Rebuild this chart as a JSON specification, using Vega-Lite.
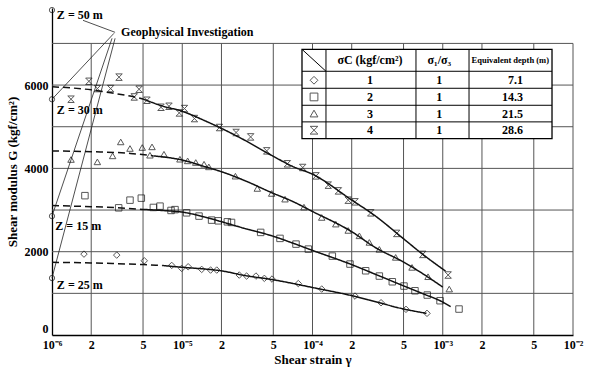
{
  "$schema": "https://vega.github.io/schema/vega-lite/v6.json",
  "width": 521,
  "height": 327,
  "autosize": "none",
  "padding": {"left": 52, "top": 8, "right": 16, "bottom": 32},
  "background": "white",
  "config": {"view": {"stroke": null}, "font": "Liberation Serif"},
  "datasets": {
    "vgrid": [
      {"x": 2e-6, "y": 0, "y2": 7000}, {"x": 5e-6, "y": 0, "y2": 7000},
      {"x": 1e-5, "y": 0, "y2": 7000}, {"x": 2e-5, "y": 0, "y2": 7000},
      {"x": 5e-5, "y": 0, "y2": 7000}, {"x": 1e-4, "y": 0, "y2": 7000},
      {"x": 2e-4, "y": 0, "y2": 7000}, {"x": 5e-4, "y": 0, "y2": 7000},
      {"x": 1e-3, "y": 0, "y2": 7000}, {"x": 2e-3, "y": 0, "y2": 7000},
      {"x": 5e-3, "y": 0, "y2": 7000}, {"x": 1e-2, "y": 0, "y2": 7000}
    ],
    "hgrid": [
      {"y": 1000, "x": 1e-6, "x2": 0.01}, {"y": 2000, "x": 1e-6, "x2": 0.01},
      {"y": 3000, "x": 1e-6, "x2": 0.01}, {"y": 4000, "x": 1e-6, "x2": 0.01},
      {"y": 5000, "x": 1e-6, "x2": 0.01}, {"y": 6000, "x": 1e-6, "x2": 0.01},
      {"y": 7000, "x": 1e-6, "x2": 0.01}
    ],
    "tablebox": [{"x": 8.305e-5, "x2": 0.0069, "y": 4716, "y2": 6858}],
    "tablelines": [
      {"x": 8.305e-5, "x2": 0.0069, "y": 6331, "y2": 6331},
      {"x": 8.305e-5, "x2": 0.0069, "y": 5923, "y2": 5923},
      {"x": 8.305e-5, "x2": 0.0069, "y": 5515, "y2": 5515},
      {"x": 8.305e-5, "x2": 0.0069, "y": 5116, "y2": 5116},
      {"x": 1.269e-4, "x2": 1.269e-4, "y": 4716, "y2": 6858},
      {"x": 6.23e-4, "x2": 6.23e-4, "y": 4716, "y2": 6858},
      {"x": 1.591e-3, "x2": 1.591e-3, "y": 4716, "y2": 6858},
      {"x": 8.305e-5, "x2": 1.269e-4, "y": 6858, "y2": 6331}
    ],
    "geolines": [
      {"x": 1.73e-6, "y": 7554, "x2": 3.05e-6, "y2": 7266},
      {"x": 2.99e-6, "y": 7242, "x2": 1e-6, "y2": 5659},
      {"x": 2.89e-6, "y": 7122, "x2": 1e-6, "y2": 2854},
      {"x": 3.05e-6, "y": 7122, "x2": 1e-6, "y2": 1367}
    ],
    "zpoints": [
      {"x": 1e-6, "y": 7800}, {"x": 1e-6, "y": 5659},
      {"x": 1e-6, "y": 2854}, {"x": 1e-6, "y": 1367}
    ],
    "zlabels": [
      {"x": 1.09e-6, "y": 7674, "label": "Z = 50 m"},
      {"x": 1.09e-6, "y": 5396, "label": "Z = 30 m"},
      {"x": 1.06e-6, "y": 2614, "label": "Z = 15 m"},
      {"x": 1.09e-6, "y": 1199, "label": "Z = 25 m"}
    ],
    "geolabel": [{"x": 3.39e-6, "y": 7266, "label": "Geophysical Investigation"}],
    "tabsym": [
      {"x": 1.027e-4, "y": 6115, "series": "1"},
      {"x": 1.027e-4, "y": 5715, "series": "2"},
      {"x": 1.027e-4, "y": 5316, "series": "3"},
      {"x": 1.027e-4, "y": 4916, "series": "4"}
    ],
    "tabtext": [
      {"x": 2.76e-4, "y": 6595, "label": "σC (kgf/cm²)"},
      {"x": 9.41e-4, "y": 6595, "label": "σ₁/σ₃"},
      {"x": 2.76e-4, "y": 6115, "label": "1"},
      {"x": 2.76e-4, "y": 5715, "label": "2"},
      {"x": 2.76e-4, "y": 5316, "label": "3"},
      {"x": 2.76e-4, "y": 4916, "label": "4"},
      {"x": 9.41e-4, "y": 6115, "label": "1"},
      {"x": 9.41e-4, "y": 5715, "label": "1"},
      {"x": 9.41e-4, "y": 5316, "label": "1"},
      {"x": 9.41e-4, "y": 4916, "label": "1"}
    ],
    "tabhead": [{"x": 3.3e-3, "y": 6595, "label": "Equivalent depth (m)"}],
    "tabdepth": [
      {"x": 4.13e-3, "y": 6115, "label": "7.1"},
      {"x": 4.13e-3, "y": 5715, "label": "14.3"},
      {"x": 4.13e-3, "y": 5316, "label": "21.5"},
      {"x": 4.13e-3, "y": 4916, "label": "28.6"}
    ],
    "fit": [
      {"series": "4", "seg": "dashed", "x": 1e-6, "y": 5960},
      {"series": "4", "seg": "dashed", "x": 2e-6, "y": 5885},
      {"series": "4", "seg": "dashed", "x": 3e-6, "y": 5800},
      {"series": "4", "seg": "dashed", "x": 4.3e-6, "y": 5715},
      {"series": "4", "seg": "dashed", "x": 5e-6, "y": 5665},
      {"series": "4", "seg": "solid", "x": 5e-6, "y": 5665},
      {"series": "4", "seg": "solid", "x": 7e-6, "y": 5500},
      {"series": "4", "seg": "solid", "x": 1e-5, "y": 5370},
      {"series": "4", "seg": "solid", "x": 1.5e-5, "y": 5140},
      {"series": "4", "seg": "solid", "x": 2e-5, "y": 4960},
      {"series": "4", "seg": "solid", "x": 3e-5, "y": 4680},
      {"series": "4", "seg": "solid", "x": 5e-5, "y": 4290},
      {"series": "4", "seg": "solid", "x": 7e-5, "y": 4050},
      {"series": "4", "seg": "solid", "x": 1e-4, "y": 3860},
      {"series": "4", "seg": "solid", "x": 2e-4, "y": 3240},
      {"series": "4", "seg": "solid", "x": 3e-4, "y": 2870},
      {"series": "4", "seg": "solid", "x": 5e-4, "y": 2310},
      {"series": "4", "seg": "solid", "x": 7e-4, "y": 1940},
      {"series": "4", "seg": "solid", "x": 1.05e-3, "y": 1535},
      {"series": "3", "seg": "dashed", "x": 1e-6, "y": 4420},
      {"series": "3", "seg": "dashed", "x": 2e-6, "y": 4400},
      {"series": "3", "seg": "dashed", "x": 4e-6, "y": 4360},
      {"series": "3", "seg": "dashed", "x": 6e-6, "y": 4300},
      {"series": "3", "seg": "solid", "x": 6e-6, "y": 4300},
      {"series": "3", "seg": "solid", "x": 1e-5, "y": 4200},
      {"series": "3", "seg": "solid", "x": 1.5e-5, "y": 4040},
      {"series": "3", "seg": "solid", "x": 2e-5, "y": 3920},
      {"series": "3", "seg": "solid", "x": 3e-5, "y": 3710},
      {"series": "3", "seg": "solid", "x": 5e-5, "y": 3400},
      {"series": "3", "seg": "solid", "x": 7e-5, "y": 3210},
      {"series": "3", "seg": "solid", "x": 1e-4, "y": 2965},
      {"series": "3", "seg": "solid", "x": 2e-4, "y": 2480},
      {"series": "3", "seg": "solid", "x": 3e-4, "y": 2110},
      {"series": "3", "seg": "solid", "x": 5e-4, "y": 1750},
      {"series": "3", "seg": "solid", "x": 7e-4, "y": 1475},
      {"series": "3", "seg": "solid", "x": 1e-3, "y": 1150},
      {"series": "2", "seg": "dashed", "x": 1e-6, "y": 3110},
      {"series": "2", "seg": "dashed", "x": 2e-6, "y": 3080},
      {"series": "2", "seg": "dashed", "x": 3e-6, "y": 3060},
      {"series": "2", "seg": "dashed", "x": 5e-6, "y": 3015},
      {"series": "2", "seg": "solid", "x": 5e-6, "y": 3015},
      {"series": "2", "seg": "solid", "x": 7e-6, "y": 2990},
      {"series": "2", "seg": "solid", "x": 1e-5, "y": 2950},
      {"series": "2", "seg": "solid", "x": 1.5e-5, "y": 2830},
      {"series": "2", "seg": "solid", "x": 2e-5, "y": 2720},
      {"series": "2", "seg": "solid", "x": 3e-5, "y": 2560},
      {"series": "2", "seg": "solid", "x": 5e-5, "y": 2370},
      {"series": "2", "seg": "solid", "x": 7e-5, "y": 2210},
      {"series": "2", "seg": "solid", "x": 1e-4, "y": 2030},
      {"series": "2", "seg": "solid", "x": 2e-4, "y": 1690},
      {"series": "2", "seg": "solid", "x": 3e-4, "y": 1465},
      {"series": "2", "seg": "solid", "x": 5e-4, "y": 1180},
      {"series": "2", "seg": "solid", "x": 7e-4, "y": 995},
      {"series": "2", "seg": "solid", "x": 1e-3, "y": 790},
      {"series": "2", "seg": "solid", "x": 1.15e-3, "y": 680},
      {"series": "1", "seg": "dashed", "x": 1e-6, "y": 1745},
      {"series": "1", "seg": "dashed", "x": 2e-6, "y": 1730},
      {"series": "1", "seg": "dashed", "x": 3e-6, "y": 1715},
      {"series": "1", "seg": "dashed", "x": 5e-6, "y": 1690},
      {"series": "1", "seg": "dashed", "x": 7e-6, "y": 1670},
      {"series": "1", "seg": "solid", "x": 7e-6, "y": 1670},
      {"series": "1", "seg": "solid", "x": 1e-5, "y": 1625},
      {"series": "1", "seg": "solid", "x": 1.5e-5, "y": 1583},
      {"series": "1", "seg": "solid", "x": 2e-5, "y": 1540},
      {"series": "1", "seg": "solid", "x": 3e-5, "y": 1430},
      {"series": "1", "seg": "solid", "x": 5e-5, "y": 1326},
      {"series": "1", "seg": "solid", "x": 7e-5, "y": 1240},
      {"series": "1", "seg": "solid", "x": 1e-4, "y": 1140},
      {"series": "1", "seg": "solid", "x": 2e-4, "y": 945},
      {"series": "1", "seg": "solid", "x": 3e-4, "y": 805},
      {"series": "1", "seg": "solid", "x": 5e-4, "y": 625},
      {"series": "1", "seg": "solid", "x": 7.5e-4, "y": 520}
    ],
    "pts": [
      {"series": "1", "x": 1.76e-6, "y": 1942}, {"series": "1", "x": 3.14e-6, "y": 1918},
      {"series": "1", "x": 5.11e-6, "y": 1782}, {"series": "1", "x": 8.3e-6, "y": 1670},
      {"series": "1", "x": 9.9e-6, "y": 1599}, {"series": "1", "x": 1.11e-5, "y": 1638},
      {"series": "1", "x": 1.41e-5, "y": 1575}, {"series": "1", "x": 1.65e-5, "y": 1559},
      {"series": "1", "x": 1.84e-5, "y": 1559}, {"series": "1", "x": 2.74e-5, "y": 1439},
      {"series": "1", "x": 3.12e-5, "y": 1415}, {"series": "1", "x": 3.68e-5, "y": 1415},
      {"series": "1", "x": 4.27e-5, "y": 1360}, {"series": "1", "x": 4.89e-5, "y": 1343},
      {"series": "1", "x": 7.78e-5, "y": 1235}, {"series": "1", "x": 1.177e-4, "y": 1103},
      {"series": "1", "x": 2.12e-4, "y": 935}, {"series": "1", "x": 3.36e-4, "y": 775},
      {"series": "1", "x": 5.22e-4, "y": 616}, {"series": "1", "x": 7.57e-4, "y": 520},
      {"series": "2", "x": 1.79e-6, "y": 3345}, {"series": "2", "x": 3.25e-6, "y": 3053},
      {"series": "2", "x": 3.97e-6, "y": 3237}, {"series": "2", "x": 4.85e-6, "y": 3285},
      {"series": "2", "x": 6.0e-6, "y": 3062}, {"series": "2", "x": 6.75e-6, "y": 3093},
      {"series": "2", "x": 8.2e-6, "y": 2990}, {"series": "2", "x": 8.8e-6, "y": 3010},
      {"series": "2", "x": 1.08e-5, "y": 2933}, {"series": "2", "x": 1.345e-5, "y": 2854},
      {"series": "2", "x": 1.68e-5, "y": 2758}, {"series": "2", "x": 1.89e-5, "y": 2741},
      {"series": "2", "x": 2.22e-5, "y": 2717}, {"series": "2", "x": 2.39e-5, "y": 2702},
      {"series": "2", "x": 4.0e-5, "y": 2463}, {"series": "2", "x": 5.63e-5, "y": 2319},
      {"series": "2", "x": 7.47e-5, "y": 2182}, {"series": "2", "x": 9.29e-5, "y": 2062},
      {"series": "2", "x": 1.42e-4, "y": 1894}, {"series": "2", "x": 1.94e-4, "y": 1703},
      {"series": "2", "x": 2.56e-4, "y": 1542}, {"series": "2", "x": 3.26e-4, "y": 1415},
      {"series": "2", "x": 4.1e-4, "y": 1278}, {"series": "2", "x": 5.04e-4, "y": 1175},
      {"series": "2", "x": 6.12e-4, "y": 1062}, {"series": "2", "x": 7.6e-4, "y": 959},
      {"series": "2", "x": 9.53e-4, "y": 823}, {"series": "2", "x": 1.333e-3, "y": 623},
      {"series": "3", "x": 1.4e-6, "y": 4213}, {"series": "3", "x": 2.23e-6, "y": 4156},
      {"series": "3", "x": 2.92e-6, "y": 4300}, {"series": "3", "x": 3.37e-6, "y": 4635},
      {"series": "3", "x": 3.97e-6, "y": 4477}, {"series": "3", "x": 4.93e-6, "y": 4501},
      {"series": "3", "x": 5.86e-6, "y": 4516}, {"series": "3", "x": 5.65e-6, "y": 4316},
      {"series": "3", "x": 7.24e-6, "y": 4340}, {"series": "3", "x": 9.6e-6, "y": 4220},
      {"series": "3", "x": 1.1e-5, "y": 4180}, {"series": "3", "x": 1.27e-5, "y": 4141},
      {"series": "3", "x": 1.47e-5, "y": 4100}, {"series": "3", "x": 1.6e-5, "y": 4036},
      {"series": "3", "x": 2.56e-5, "y": 3813}, {"series": "3", "x": 3.77e-5, "y": 3518},
      {"series": "3", "x": 4.86e-5, "y": 3398}, {"series": "3", "x": 6.15e-5, "y": 3261},
      {"series": "3", "x": 8.6e-5, "y": 3070}, {"series": "3", "x": 1.177e-4, "y": 2822},
      {"series": "3", "x": 1.51e-4, "y": 2662}, {"series": "3", "x": 1.88e-4, "y": 2510},
      {"series": "3", "x": 2.29e-4, "y": 2381}, {"series": "3", "x": 2.73e-4, "y": 2223},
      {"series": "3", "x": 3.26e-4, "y": 2055}, {"series": "3", "x": 4.35e-4, "y": 1863},
      {"series": "3", "x": 5.81e-4, "y": 1623}, {"series": "3", "x": 7.71e-4, "y": 1399},
      {"series": "3", "x": 1.122e-3, "y": 1103},
      {"series": "4", "x": 1.4e-6, "y": 5660}, {"series": "4", "x": 1.92e-6, "y": 6090},
      {"series": "4", "x": 2.23e-6, "y": 5916}, {"series": "4", "x": 2.82e-6, "y": 5916},
      {"series": "4", "x": 3.27e-6, "y": 6190}, {"series": "4", "x": 4.28e-6, "y": 5715},
      {"series": "4", "x": 4.66e-6, "y": 5900}, {"series": "4", "x": 5.36e-6, "y": 5635},
      {"series": "4", "x": 6.87e-6, "y": 5467}, {"series": "4", "x": 7.91e-6, "y": 5491},
      {"series": "4", "x": 9.49e-6, "y": 5331}, {"series": "4", "x": 1.04e-5, "y": 5436},
      {"series": "4", "x": 1.24e-5, "y": 5196}, {"series": "4", "x": 1.93e-5, "y": 4981},
      {"series": "4", "x": 2.59e-5, "y": 4861}, {"series": "4", "x": 3.35e-5, "y": 4755},
      {"series": "4", "x": 4.45e-5, "y": 4420}, {"series": "4", "x": 6.41e-5, "y": 4110},
      {"series": "4", "x": 8.41e-5, "y": 4021}, {"series": "4", "x": 1.064e-4, "y": 3820},
      {"series": "4", "x": 1.32e-4, "y": 3597}, {"series": "4", "x": 1.58e-4, "y": 3460},
      {"series": "4", "x": 1.88e-4, "y": 3237}, {"series": "4", "x": 2.12e-4, "y": 3197},
      {"series": "4", "x": 2.8e-4, "y": 2933}, {"series": "4", "x": 4.43e-4, "y": 2439},
      {"series": "4", "x": 7.02e-4, "y": 1935}, {"series": "4", "x": 1.1e-3, "y": 1440}
    ]
  },
  "encoding": {
    "x": {
      "field": "x", "type": "quantitative",
      "scale": {"type": "log", "domain": [1e-6, 0.01]},
      "title": "Shear  strain  γ",
      "axis": {
        "values": [1e-6, 2e-6, 5e-6, 1e-5, 2e-5, 5e-5, 1e-4, 2e-4, 5e-4, 1e-3, 2e-3, 5e-3, 1e-2],
        "labelExpr": "round(datum.value / pow(10, floor(log(datum.value) / LN10 + 0.0001))) == 1 ? '10' + ['⁻⁶','⁻⁵','⁻⁴','⁻³','⁻²'][round(log(datum.value) / LN10) + 6] : '' + round(datum.value / pow(10, floor(log(datum.value) / LN10 + 0.0001)))",
        "grid": false, "ticks": false, "domainColor": "#000", "domainWidth": 1.3,
        "labelFont": "Liberation Serif", "labelFontSize": 12, "labelFontWeight": "bold",
        "labelColor": "#000", "labelPadding": 4, "labelFlush": false, "labelOverlap": false,
        "titleFont": "Liberation Serif", "titleFontSize": 13, "titleFontWeight": "bold",
        "titleColor": "#000", "titlePadding": 3
      }
    },
    "y": {
      "field": "y", "type": "quantitative",
      "scale": {"domain": [0, 7850], "nice": false},
      "title": "Shear  modulus  G  (kgf/cm²)",
      "axis": {
        "values": [0, 2000, 4000, 6000],
        "format": "d",
        "grid": false, "ticks": false, "domainColor": "#000", "domainWidth": 1.3,
        "labelFont": "Liberation Serif", "labelFontSize": 12, "labelFontWeight": "bold",
        "labelColor": "#000", "labelPadding": 4, "labelFlush": true, "labelFlushOffset": 0,
        "titleFont": "Liberation Serif", "titleFontSize": 13, "titleFontWeight": "bold",
        "titleColor": "#000", "titlePadding": 5
      }
    }
  },
  "layer": [
    {"data": {"name": "vgrid"}, "mark": {"type": "rule", "stroke": "#555", "strokeWidth": 1}, "encoding": {"y2": {"field": "y2"}}},
    {"data": {"name": "hgrid"}, "mark": {"type": "rule", "stroke": "#555", "strokeWidth": 1}, "encoding": {"x2": {"field": "x2"}}},
    {"data": {"name": "tablebox"}, "mark": {"type": "rect", "fill": "white", "stroke": "#000", "strokeWidth": 1.3}, "encoding": {"x2": {"field": "x2"}, "y2": {"field": "y2"}}},
    {"data": {"name": "tablelines"}, "mark": {"type": "rule", "stroke": "#000", "strokeWidth": 1}, "encoding": {"x2": {"field": "x2"}, "y2": {"field": "y2"}}},
    {"data": {"name": "geolines"}, "mark": {"type": "rule", "stroke": "#222", "strokeWidth": 0.8}, "encoding": {"x2": {"field": "x2"}, "y2": {"field": "y2"}}},
    {
      "data": {"name": "fit"},
      "mark": {"type": "line", "stroke": "#111", "strokeWidth": 1.5, "interpolate": "monotone"},
      "encoding": {
        "detail": {"field": "series", "type": "nominal"},
        "strokeDash": {"field": "seg", "type": "nominal", "scale": {"domain": ["dashed", "solid"], "range": [[7, 4], [1, 0]]}, "legend": null}
      }
    },
    {
      "data": {"name": "pts"},
      "mark": {"type": "point", "filled": false, "stroke": "#111", "strokeWidth": 1, "size": 42},
      "encoding": {
        "shape": {"field": "series", "type": "nominal", "scale": {"domain": ["1", "2", "3", "4"], "range": ["diamond", "square", "triangle-up", "M-1,-1L1,-1L-1,1L1,1Z"]}, "legend": null}
      }
    },
    {
      "data": {"name": "tabsym"},
      "mark": {"type": "point", "filled": false, "stroke": "#111", "strokeWidth": 1, "size": 60},
      "encoding": {
        "shape": {"field": "series", "type": "nominal", "scale": {"domain": ["1", "2", "3", "4"], "range": ["diamond", "square", "triangle-up", "M-1,-1L1,-1L-1,1L1,1Z"]}, "legend": null}
      }
    },
    {"data": {"name": "zpoints"}, "mark": {"type": "point", "shape": "circle", "filled": false, "stroke": "#111", "strokeWidth": 1, "size": 28}},
    {"data": {"name": "zlabels"}, "mark": {"type": "text", "align": "left", "baseline": "middle", "font": "Liberation Serif", "fontSize": 12, "fontWeight": "bold", "color": "#000"}, "encoding": {"text": {"field": "label"}}},
    {"data": {"name": "geolabel"}, "mark": {"type": "text", "align": "left", "baseline": "middle", "font": "Liberation Serif", "fontSize": 12, "fontWeight": "bold", "color": "#000"}, "encoding": {"text": {"field": "label"}}},
    {"data": {"name": "tabtext"}, "mark": {"type": "text", "align": "center", "baseline": "middle", "font": "Liberation Serif", "fontSize": 12, "fontWeight": "bold", "color": "#000"}, "encoding": {"text": {"field": "label"}}},
    {"data": {"name": "tabhead"}, "mark": {"type": "text", "align": "center", "baseline": "middle", "font": "Liberation Serif", "fontSize": 8.5, "fontWeight": "bold", "color": "#000"}, "encoding": {"text": {"field": "label"}}},
    {"data": {"name": "tabdepth"}, "mark": {"type": "text", "align": "right", "baseline": "middle", "font": "Liberation Serif", "fontSize": 12, "fontWeight": "bold", "color": "#000"}, "encoding": {"text": {"field": "label"}}}
  ]
}
